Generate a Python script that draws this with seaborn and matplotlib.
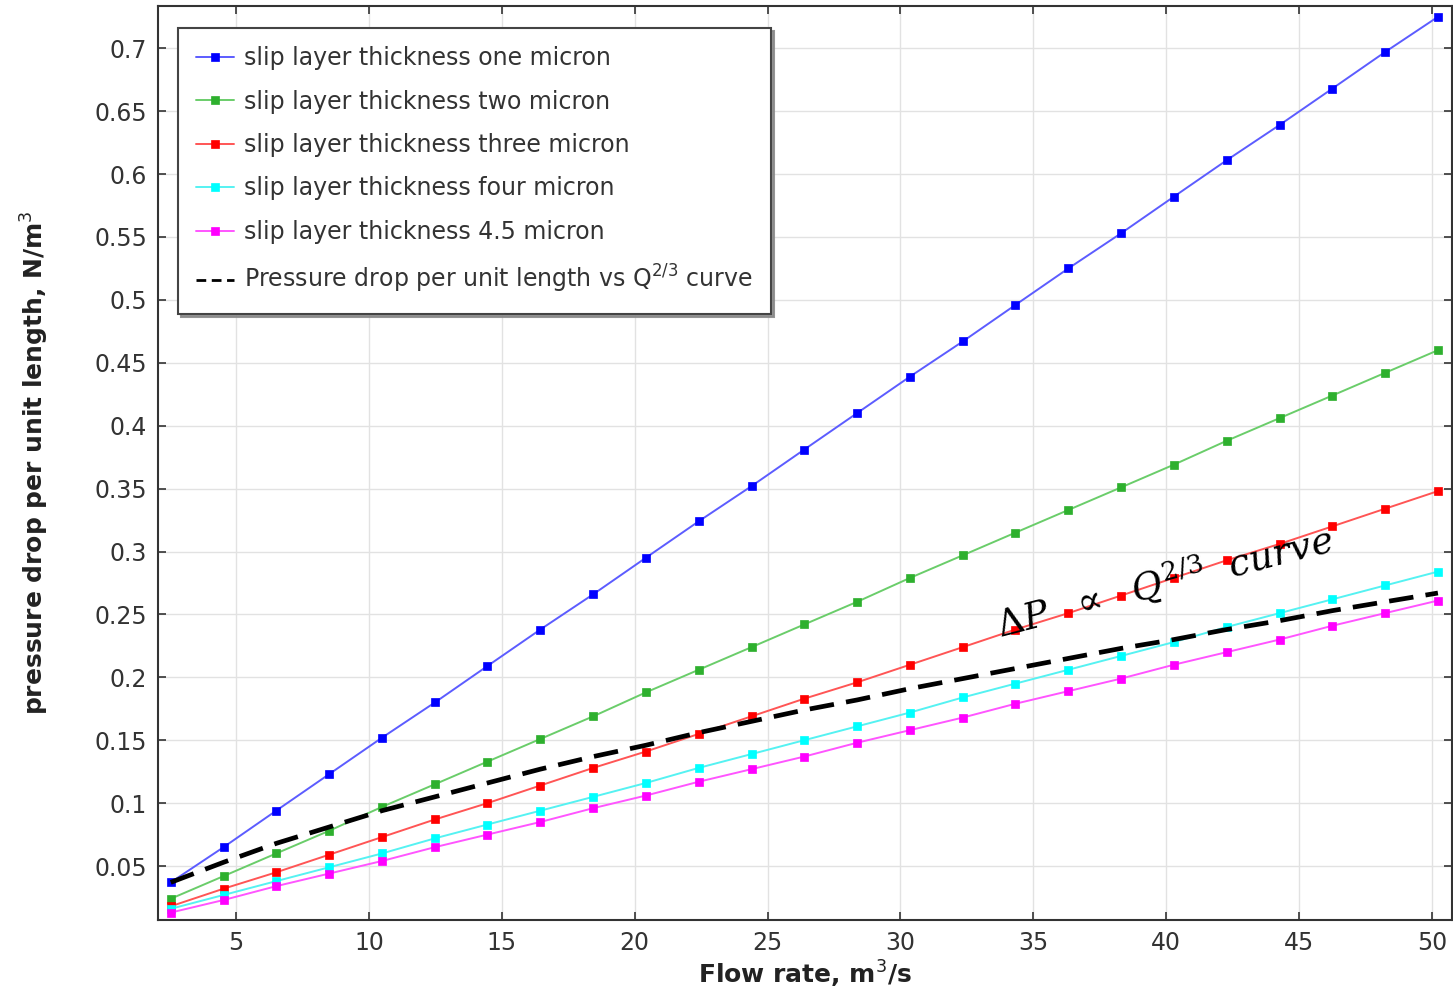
import matplotlib
matplotlib.use("Agg")
import matplotlib.pyplot as plt
import seaborn as sns
import pandas as pd

# Flow rate samples, m^3/s
flow_rate = [2.54, 4.53, 6.51, 8.50, 10.49, 12.48, 14.46, 16.45, 18.44, 20.42, 22.41, 24.40,
             26.38, 28.37, 30.36, 32.35, 34.33, 36.32, 38.31, 40.29, 42.28, 44.27, 46.26, 48.24, 50.23]

# Pressure drop per unit length, N/m^3, for each slip layer thickness
dp_one_micron = [0.037, 0.065, 0.094, 0.123, 0.152, 0.180, 0.209, 0.238, 0.266, 0.295, 0.324, 0.352,
                 0.381, 0.410, 0.439, 0.467, 0.496, 0.525, 0.553, 0.582, 0.611, 0.639, 0.668, 0.697, 0.725]
dp_two_micron = [0.024, 0.042, 0.060, 0.078, 0.097, 0.115, 0.133, 0.151, 0.169, 0.188, 0.206, 0.224,
                 0.242, 0.260, 0.279, 0.297, 0.315, 0.333, 0.351, 0.369, 0.388, 0.406, 0.424, 0.442, 0.460]
dp_three_micron = [0.018, 0.032, 0.045, 0.059, 0.073, 0.087, 0.100, 0.114, 0.128, 0.141, 0.155, 0.169,
                   0.183, 0.196, 0.210, 0.224, 0.238, 0.251, 0.265, 0.279, 0.293, 0.306, 0.320, 0.334, 0.348]
dp_four_micron = [0.016, 0.027, 0.038, 0.049, 0.060, 0.072, 0.083, 0.094, 0.105, 0.116, 0.128, 0.139,
                  0.150, 0.161, 0.172, 0.184, 0.195, 0.206, 0.217, 0.228, 0.240, 0.251, 0.262, 0.273, 0.284]
dp_4p5_micron = [0.013, 0.023, 0.034, 0.044, 0.054, 0.065, 0.075, 0.085, 0.096, 0.106, 0.117, 0.127,
                 0.137, 0.148, 0.158, 0.168, 0.179, 0.189, 0.199, 0.210, 0.220, 0.230, 0.241, 0.251, 0.261]
# Reference Q^(2/3) trend
dp_q23_curve = [0.037, 0.053, 0.068, 0.081, 0.094, 0.105, 0.116, 0.127, 0.137, 0.146, 0.156, 0.165,
                0.174, 0.182, 0.191, 0.199, 0.207, 0.215, 0.223, 0.230, 0.238, 0.245, 0.253, 0.260, 0.267]

series_labels = ["slip layer thickness one micron",
                 "slip layer thickness two micron",
                 "slip layer thickness three micron",
                 "slip layer thickness four micron",
                 "slip layer thickness 4.5 micron"]
curve_label = "Pressure drop per unit length vs Q$^{2/3}$ curve"
x_ticks = [5, 10, 15, 20, 25, 30, 35, 40, 45, 50]
y_ticks = [0.05, 0.1, 0.15, 0.2, 0.25, 0.3, 0.35, 0.4, 0.45, 0.5, 0.55, 0.6, 0.65, 0.7]

sns.set_style("ticks")
plt.rcParams["font.family"] = ["DejaVu Sans"]
plt.rcParams["mathtext.fontset"] = "dejavusans"

W, H = 1453, 993
fig = plt.figure(figsize=(W / 100, H / 100), dpi=100)
ax = fig.add_axes([158 / W, (H - 920) / H, (1452 - 158) / W, (920 - 6) / H])

line_colors = ["#5c5cff", "#6acd6a", "#ff5555", "#55f2f2", "#ff55ff"]
marker_colors = ["#0000ff", "#2eb02e", "#ff0000", "#00ffff", "#ff00ff"]
all_series = [dp_one_micron, dp_two_micron, dp_three_micron, dp_four_micron, dp_4p5_micron]

for vals, lab, lc, mc in zip(all_series, series_labels, line_colors, marker_colors):
    df = pd.DataFrame({"Q": flow_rate, "dP": vals})
    sns.lineplot(data=df, x="Q", y="dP", ax=ax, label=lab, color=lc, linewidth=1.4,
                 marker="s", markersize=6, markerfacecolor=mc, markeredgecolor=mc,
                 markeredgewidth=0.5, zorder=3)

df_curve = pd.DataFrame({"Q": flow_rate, "dP": dp_q23_curve})
sns.lineplot(data=df_curve, x="Q", y="dP", ax=ax, label=curve_label, color="black",
             linewidth=3.4, linestyle=(0, (5.2, 2.6)), zorder=4)

ax.set_xlim(2.06, 50.76)
ax.set_ylim(0.0071, 0.7336)
ax.set_xticks(x_ticks)
ax.set_yticks(y_ticks)
ax.set_xticklabels([str(t) for t in x_ticks])
ax.set_yticklabels([f"{t:g}" for t in y_ticks])

ax.grid(True, color="#e2e2e2", linewidth=1.0, zorder=0)
ax.set_axisbelow(True)
ax.tick_params(direction="in", length=6, width=1.2, top=True, right=True,
               labelsize=17, colors="#333333", pad=8)
for sp in ax.spines.values():
    sp.set_visible(True)
    sp.set_color("#333333")
    sp.set_linewidth(1.5)

ax.set_xlabel("Flow rate, m$^3$/s", fontsize=18, fontweight="bold", color="#222222", labelpad=3)
ax.set_ylabel("pressure drop per unit length, N/m$^3$", fontsize=18, fontweight="bold",
              color="#222222", labelpad=31)

ax.text(33.75, 0.2314, r"$\Delta P\ \ \propto\ \ Q^{2/3}\ \ curve$", rotation=14.5,
        rotation_mode="anchor", ha="left", va="baseline", fontsize=27,
        math_fontfamily="dejavuserif", color="black", zorder=5)

leg = ax.legend(loc="upper left", bbox_to_anchor=(0.0155, 0.976), borderaxespad=0,
                fontsize=17, frameon=True, fancybox=False, shadow={"color": "#8a8a8a", "alpha": 0.9},
                handlelength=1.6, handletextpad=0.42, labelspacing=0.82,
                borderpad=0.78)
leg.get_frame().set_edgecolor("#444444")
leg.get_frame().set_linewidth(1.5)
for t in leg.get_texts():
    t.set_color("#333333")
curve_handle = leg.legend_handles[-1]
curve_handle.set_linewidth(2.0)
curve_handle.set_linestyle((0, (3.5, 2.0)))

fig.savefig("out.png", dpi=100)
